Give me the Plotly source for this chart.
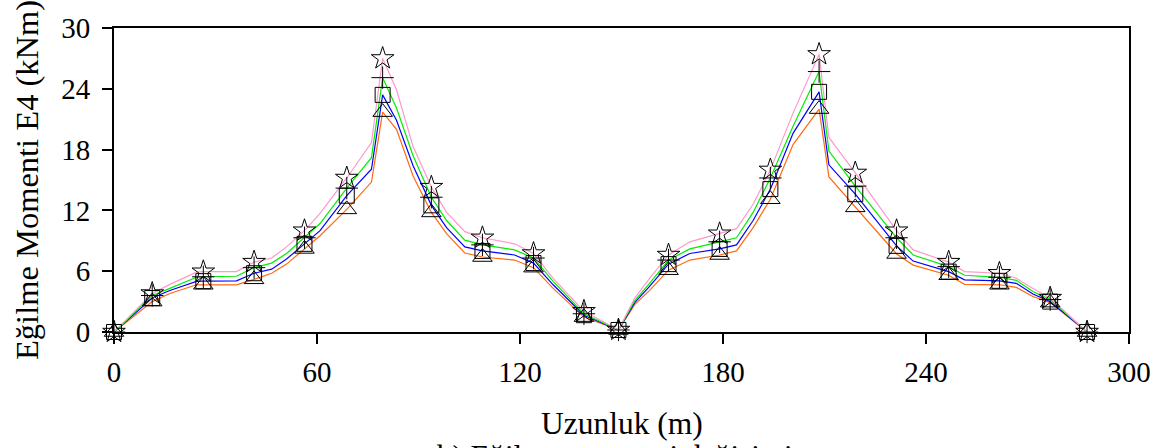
import plotly.graph_objects as go

# Positions along the two spans (m) where the moment curves have vertices
x_pos = [0, 11.3, 16.5, 24.4, 26.4, 36.2, 41.4, 46.6, 51.0, 56.3, 60.9, 68.8, 76.1, 79.4,
         83.5, 88.4, 93.8, 98.3, 103.7, 108.9, 118.4, 124.0, 129.8, 138.9, 149.1,
         153.9, 158.3, 163.9, 170.2, 179.0, 184.0, 188.9, 194.0, 200.7, 208.4, 211.3,
         219.1, 231.3, 236.2, 246.7, 251.4, 261.7, 266.7, 271.6, 276.7, 287.6]

# Bending moment E4 (kNm) for the four cases
m_orange = [0, 3.0, 3.8, 4.66, 4.66, 4.66, 5.2, 5.8, 6.7, 8.2, 9.5, 12.1, 14.8, 21.7,
            20.0, 15.4, 11.8, 9.7, 7.8, 7.4, 7.1, 6.35, 4.3, 1.47, 0.2,
            2.7, 4.1, 6.1, 7.1, 7.6, 8.0, 10.3, 13.1, 18.5, 22.0, 15.3,
            12.3, 7.7, 6.6, 5.6, 4.7, 4.66, 4.4, 3.5, 2.9, 0]
m_blue = [0, 3.35, 4.1, 5.0, 5.02, 5.05, 5.8, 6.2, 7.2, 8.7, 10.0, 13.45, 16.06, 23.4,
          20.9, 16.4, 12.5, 10.3, 8.4, 8.0, 7.6, 6.8, 4.66, 1.66, 0.2,
          2.9, 4.5, 6.7, 7.75, 8.2, 8.6, 11.0, 14.1, 19.6, 23.7, 16.5,
          13.6, 8.5, 7.0, 5.96, 5.15, 5.05, 4.8, 3.75, 3.0, 0]
m_green = [0, 3.6, 4.3, 5.4, 5.45, 5.5, 6.35, 6.8, 7.75, 9.3, 10.7, 14.2, 17.2, 25.1,
           22.1, 17.4, 13.3, 11.0, 9.06, 8.6, 8.1, 7.3, 5.0, 1.8, 0.2,
           3.1, 4.8, 7.1, 8.2, 8.9, 9.3, 11.8, 15.2, 20.3, 25.7, 17.85,
           14.4, 9.3, 7.6, 6.45, 5.6, 5.4, 5.1, 4.0, 3.2, 0]
m_pink = [0, 3.8, 4.7, 5.9, 5.95, 5.96, 6.9, 7.3, 8.4, 10.0, 11.7, 15.2, 18.7, 27.0,
          23.9, 18.3, 14.3, 11.8, 9.9, 9.3, 8.7, 7.75, 5.3, 2.05, 0.2,
          3.35, 5.3, 7.6, 8.9, 9.7, 10.2, 12.6, 16.0, 21.6, 27.4, 19.2,
          15.7, 10.0, 8.1, 6.9, 5.96, 5.8, 5.3, 4.3, 3.35, 0]

# Positions that carry a symbol
marker_x = [0, 11.3, 26.4, 41.4, 56.3, 68.8, 79.4, 93.8, 108.9, 124.0, 138.9, 149.1,
            163.9, 179.0, 194.0, 208.4, 219.1, 231.3, 246.7, 261.7, 276.7, 287.6]

x_ticks = [0, 60, 120, 180, 240, 300]
y_ticks = [0, 6, 12, 18, 24, 30]

series = [
    (m_orange, "#ff6a10", "triangle-up-open", 17),
    (m_blue, "#0000ff", "square-open", 15),
    (m_green, "#00ee00", "cross-thin-open", 16),
    (m_pink, "#ff99cc", "star-open", 17),
]

FONT = "Liberation Serif, Times New Roman, serif"

fig = go.Figure()

for vals, color, _, _ in series:
    fig.add_trace(go.Scatter(x=x_pos, y=vals, mode="lines",
                             line=dict(color=color, width=1.2),
                             showlegend=False, hoverinfo="skip"))

for vals, _, symbol, size in series:
    mx = [x for x in x_pos if x in marker_x]
    my = [v for x, v in zip(x_pos, vals) if x in marker_x]
    fig.add_trace(go.Scatter(x=mx, y=my, mode="markers", cliponaxis=False,
                             marker=dict(symbol=symbol, size=size, color="black",
                                         line=dict(color="black", width=1)),
                             showlegend=False))

axis_common = dict(showline=True, linecolor="black", linewidth=2, mirror=True,
                   ticks="outside", ticklen=10, tickwidth=2, tickcolor="black",
                   showgrid=False, zeroline=False,
                   tickfont=dict(family=FONT, size=29, color="black"))

fig.update_xaxes(range=[0, 300], tickvals=x_ticks, ticklabelstandoff=3, **axis_common)
fig.update_yaxes(range=[0, 30], tickvals=y_ticks, ticklabelstandoff=6, **axis_common)

fig.add_annotation(text="Eğilme Momenti E4 (kNm)", textangle=-90,
                   xref="paper", yref="paper", x=0, y=0.5, xshift=-87,
                   xanchor="center", yanchor="middle", showarrow=False,
                   font=dict(family=FONT, size=32.5, color="black"))
fig.add_annotation(text="Uzunluk (m)", xref="paper", yref="paper", x=0.5, y=0,
                   yshift=-91, xanchor="center", yanchor="middle", showarrow=False,
                   font=dict(family=FONT, size=31.5, color="black"))
fig.add_annotation(text="b) Eğilme momenti değişimi", xref="paper", yref="paper",
                   x=(435 - 114) / 1015, y=0, yshift=-105, xanchor="left", yanchor="top",
                   showarrow=False, font=dict(family=FONT, size=31, color="black"))

fig.update_layout(width=1170, height=448, margin=dict(l=114, r=41, t=25, b=116),
                  paper_bgcolor="white", plot_bgcolor="white",
                  font=dict(family=FONT, color="black"))

fig.write_html("out.html")
